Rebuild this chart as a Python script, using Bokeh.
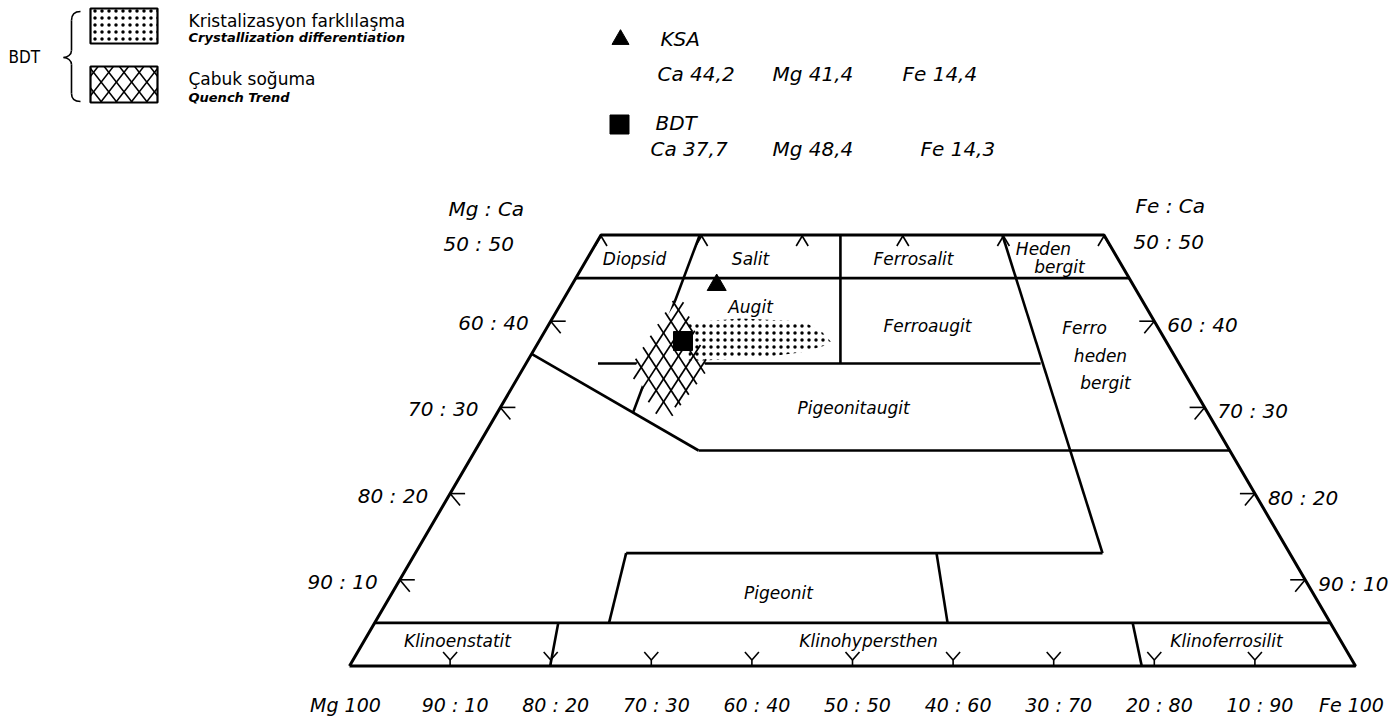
import math
from bokeh.plotting import figure
from bokeh.models import Range1d
from bokeh.embed import file_html
from bokeh.resources import INLINE
from bokeh.core.properties import value

# ---------------- data (x = Fs + Wo/2 in %, Wo = Ca %) ----------------
quad_x = [0, 100, 75, 25, 0]
quad_wo = [0, 0, 50, 50, 0]

# field boundaries: start (x, Wo) -> end (x, Wo)
bnd_x0 = [22.5, 2.5, 34.82, 48.8, 24.7, 64.9, 18.1, 34.7, 27.5, 27.5, 58.35, 20.75, 77.85]
bnd_w0 = [45.0, 5.0, 50.0, 50.0, 35.1, 50.0, 36.2, 25.0, 13.1, 13.1, 13.1, 5.0, 5.0]
bnd_x1 = [77.5, 97.5, 28.2, 48.8, 68.7, 74.85, 34.7, 87.5, 74.85, 25.8, 59.45, 19.95, 78.75]
bnd_w1 = [45.0, 5.0, 29.45, 35.1, 35.1, 13.1, 25.0, 25.0, 13.1, 5.0, 5.0, 0.0, 0.0]

# samples
sample_names = ["KSA", "BDT"]
sample_ca = [44.2, 37.7]
sample_mg = [41.4, 48.4]
sample_fe = [14.4, 14.3]
sample_markers = ["triangle", "square"]

# BDT trends
cryst_x = [33.70, 38.87, 45.13, 47.02, 48.01, 44.83, 40.85, 35.19, 33.70]
cryst_wo = [39.85, 40.31, 39.97, 38.69, 37.41, 36.37, 35.79, 35.44, 35.44]
quench_x = [32.70, 35.39, 31.31, 28.13]
quench_wo = [42.63, 34.74, 28.48, 34.28]

# ticks and tick labels
edge_ticks_wo = [10, 20, 30, 40]
top_ticks_fs = [0, 10, 20, 30, 40, 50]
bottom_ticks = [10, 20, 30, 40, 50, 60, 70, 80, 90]
bottom_label_pos = [0, 10, 20, 30, 40, 50, 60, 70, 80, 90, 100]
bottom_labels = ["Mg 100", "90 : 10", "80 : 20", "70 : 30", "60 : 40", "50 : 50",
                 "40 : 60", "30 : 70", "20 : 80", "10 : 90", "Fe 100"]
side_label_wo = [40, 30, 20, 10]
side_labels = ["60 : 40", "70 : 30", "80 : 20", "90 : 10"]

field_names = ["Diopsid", "Salit", "Ferrosalit", "Heden", "bergit", "Augit", "Ferroaugit",
               "Ferro", "heden", "bergit", "Pigeonitaugit", "Pigeonit",
               "Klinoenstatit", "Klinohypersthen", "Klinoferrosilit"]

# ---------------- layout ----------------
X0, YB, PXU, PYU = 349.0, 665.5, 10.06, 8.62   # page px of Mg100 corner, px per unit
OFF = 0
W, H = 1392, 716


def gx(X):
    return (X - X0) / PXU


def gy(Y):
    return (YB - Y) / PYU


def px_of(x):
    return X0 + x * PXU


def py_of(w):
    return YB - w * PYU


def lattice(poly, angle=55.0, spacing=12.0, ext=3.0, phase=0.0):
    """Cross-hatch lines (two families at +/-angle) clipped to a convex pixel polygon."""
    out = []
    n = len(poly)
    for sgn in (1, -1):
        a = math.radians(angle) * sgn
        d = (math.cos(a), math.sin(a))
        nv = (-d[1], d[0])
        proj = [px * nv[0] + py * nv[1] for px, py in poly]
        c = min(proj) + phase + spacing / 2.0
        while c < max(proj):
            base = (c * nv[0], c * nv[1])
            ts = []
            for i in range(n):
                p1, p2 = poly[i], poly[(i + 1) % n]
                ex, ey = p2[0] - p1[0], p2[1] - p1[1]
                den = d[0] * ey - d[1] * ex
                if abs(den) < 1e-9:
                    continue
                wx, wy = p1[0] - base[0], p1[1] - base[1]
                t = (wx * ey - wy * ex) / den
                u = (wx * d[1] - wy * d[0]) / den
                if -1e-9 <= u <= 1 + 1e-9:
                    ts.append(t)
            if len(ts) >= 2:
                t0, t1 = min(ts) - ext, max(ts) + ext
                out.append((base[0] + t0 * d[0], base[1] + t0 * d[1],
                            base[0] + t1 * d[0], base[1] + t1 * d[1]))
            c += spacing
    return out


FONT = value("DejaVu Sans")

p = figure(width=W, height=H, output_backend="svg", toolbar_location=None,
           x_range=Range1d(gx(OFF), gx(OFF + W)), y_range=Range1d(gy(OFF + H), gy(OFF)),
           x_axis_location=None, y_axis_location=None, min_border=0,
           outline_line_color=None, background_fill_color="white")
p.xgrid.visible = False
p.ygrid.visible = False

# frame and boundaries
p.line(quad_x, quad_wo, line_color="black", line_width=3)
p.segment(bnd_x0, bnd_w0, bnd_x1, bnd_w1, line_color="black", line_width=2.6)

# ticks
dx = lambda v: v / PXU
dy = lambda v: v / PYU
tx0, ty0, tx1, ty1 = [], [], [], []
for w in edge_ticks_wo:
    ax = w / 2.0
    tx0 += [ax, ax]; ty0 += [w, w]
    tx1 += [ax + dx(15), ax + dx(10)]; ty1 += [w, w - dy(12)]
    bx = 100 - w / 2.0
    tx0 += [bx, bx]; ty0 += [w, w]
    tx1 += [bx - dx(15), bx - dx(10)]; ty1 += [w, w - dy(12)]
for fs in top_ticks_fs:
    cx = 25 + fs
    for s in (-1, 1):
        tx0.append(cx); ty0.append(50 - dy(1))
        tx1.append(cx + s * dx(6)); ty1.append(50 - dy(11))
for b in bottom_ticks:
    for s in (-1, 1):
        tx0.append(b); ty0.append(dy(6))
        tx1.append(b + s * dx(7)); ty1.append(dy(14))
    tx0.append(b); ty0.append(0)
    tx1.append(b); ty1.append(dy(6))
p.segment(tx0, ty0, tx1, ty1, line_color="black", line_width=1.6)

# quench trend: white area with diamond lattice
p.patch(quench_x, quench_wo, fill_color="white", line_color=None)
qpoly = [(px_of(x), py_of(w)) for x, w in zip(quench_x, quench_wo)]
ql = lattice(qpoly, angle=57, spacing=12.5, ext=4)
p.segment([gx(s[0]) for s in ql], [gy(s[1]) for s in ql], [gx(s[2]) for s in ql],
          [gy(s[3]) for s in ql], line_color="black", line_width=1.7)

# crystallization differentiation: stipple
p.patch(cryst_x, cryst_wo, fill_alpha=0, line_color=None,
        hatch_pattern="dot", hatch_color="black", hatch_scale=7, hatch_weight=0.9)

# samples
sx = [f + c / 2.0 for f, c in zip(sample_fe, sample_ca)]
p.scatter(sx, sample_ca, marker=sample_markers, size=19, fill_color="black", line_color="black")

# field labels
fpos = [(634, 258), (750, 258), (913, 258), (1043, 248), (1059, 266), (750, 306), (927, 325),
        (1084, 327), (1100, 355), (1105, 382), (853, 407), (778, 592),
        (457, 640), (868, 640), (1226, 640)]
p.text([gx(a) for a, b in fpos], [gy(b) for a, b in fpos], text=field_names,
       text_font=FONT, text_font_style="italic", text_font_size="17px",
       text_align="center", text_baseline="middle", text_color="black")

# bottom labels
blx = [b + dx(5) for b in bottom_label_pos]
blx[0] = bottom_label_pos[0] - dx(4)
blx[-1] = bottom_label_pos[-1] - dx(4)
p.text(blx, [gy(704)] * len(blx), text=bottom_labels, text_font=FONT,
       text_font_style="italic", text_font_size="19px", text_align="center",
       text_baseline="middle", text_color="black")

# side labels
p.text([w / 2.0 - dx(22) for w in side_label_wo], [w - dy(2) for w in side_label_wo],
       text=side_labels, text_font=FONT, text_font_style="italic", text_font_size="20px",
       text_align="right", text_baseline="middle", text_color="black")
p.text([100 - w / 2.0 + dx(13) for w in side_label_wo], [w - dy(4) for w in side_label_wo],
       text=side_labels, text_font=FONT, text_font_style="italic", text_font_size="20px",
       text_align="left", text_baseline="middle", text_color="black")
p.text([gx(443), gx(1133)], [gy(243), gy(241)], text=["50 : 50", "50 : 50"], text_font=FONT,
       text_font_style="italic", text_font_size="20px", text_align="left",
       text_baseline="middle", text_color="black")
p.text([gx(448), gx(1135)], [gy(208), gy(205)], text=["Mg : Ca", "Fe : Ca"], text_font=FONT,
       text_font_style="italic", text_font_size="20px", text_align="left",
       text_baseline="middle", text_color="black")

# sample legend (top centre)
p.scatter([gx(620), gx(619)], [gy(39), gy(124)], marker=sample_markers, size=[17, 19],
          fill_color="black", line_color="black")
p.text([gx(660), gx(655)], [gy(38), gy(122)], text=sample_names, text_font=FONT,
       text_font_style="italic", text_font_size="20px", text_align="left",
       text_baseline="middle", text_color="black")
fmt = lambda v: f"{v:.1f}".replace(".", ",")
val_txt, val_x, val_y = [], [], []
cols = [(657, 772, 902), (650, 772, 920)]
rows = [73, 148]
for i in range(2):
    val_txt += [f"Ca {fmt(sample_ca[i])}", f"Mg {fmt(sample_mg[i])}", f"Fe {fmt(sample_fe[i])}"]
    val_x += [gx(c) for c in cols[i]]
    val_y += [gy(rows[i])] * 3
p.text(val_x, val_y, text=val_txt, text_font=FONT, text_font_style="italic",
       text_font_size="20px", text_align="left", text_baseline="middle", text_color="black")

# trend legend (top left)
p.quad(left=[gx(90), gx(90)], right=[gx(157), gx(157)], top=[gy(8), gy(66)],
       bottom=[gy(43), gy(102)], fill_color="white", line_color=None,
       hatch_pattern=["dot", " "], hatch_color="black", hatch_scale=7, hatch_weight=0.9)
lbox = [(90, 66), (157, 66), (157, 102), (90, 102)]
ll = lattice(lbox, angle=52, spacing=12.0, ext=0)
p.segment([gx(s[0]) for s in ll], [gy(s[1]) for s in ll], [gx(s[2]) for s in ll],
          [gy(s[3]) for s in ll], line_color="black", line_width=1.5)
p.quad(left=[gx(90), gx(90)], right=[gx(157), gx(157)], top=[gy(8), gy(66)],
       bottom=[gy(43), gy(102)], fill_alpha=0, line_color="black", line_width=2.2)
p.text([gx(8)], [gy(56)], text=["BDT"], text_font=value("DejaVu Sans Condensed"),
       text_font_size="17px", text_align="left", text_baseline="middle", text_color="black")
p.text([gx(188), gx(188)], [gy(20), gy(78)], text=["Kristalizasyon farklılaşma", "Çabuk soğuma"],
       text_font=FONT, text_font_size="17px", text_align="left", text_baseline="middle",
       text_color="black")
p.text([gx(188), gx(188)], [gy(37), gy(97)],
       text=["Crystallization differentiation", "Quench Trend"],
       text_font=FONT, text_font_style="bold italic", text_font_size="13px",
       text_align="left", text_baseline="middle", text_color="black")

# brace
bz = [((80, 11), (71, 20), (74, 11), (71, 14)),
      ((71, 50), (63, 57), (71, 54), (67, 57)),
      ((63, 57), (71, 64), (67, 57), (71, 60)),
      ((71, 93), (80, 101), (71, 98), (74, 101))]
p.bezier(x0=[gx(a[0][0]) for a in bz], y0=[gy(a[0][1]) for a in bz],
         x1=[gx(a[1][0]) for a in bz], y1=[gy(a[1][1]) for a in bz],
         cx0=[gx(a[2][0]) for a in bz], cy0=[gy(a[2][1]) for a in bz],
         cx1=[gx(a[3][0]) for a in bz], cy1=[gy(a[3][1]) for a in bz],
         line_color="black", line_width=1.6)
p.segment([gx(71), gx(71)], [gy(20), gy(64)], [gx(71), gx(71)], [gy(50), gy(93)],
          line_color="black", line_width=1.6)

open("out.html", "w").write(file_html(p, INLINE))
